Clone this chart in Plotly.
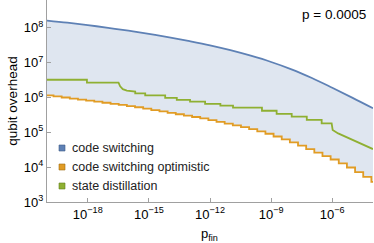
import plotly.graph_objects as go

# ---- data (log10 values) ----
blue_pfin_log = [-20, -19, -18, -17, -16, -15, -14, -13, -12, -11, -10, -9, -8, -7, -6, -5, -4]
blue_log = [8.21, 8.15, 8.08, 8.00, 7.92, 7.83, 7.73, 7.62, 7.50, 7.36, 7.20, 7.02, 6.81, 6.56, 6.28, 5.99, 5.69]

orange_step_pfin_log = [-20, -19.68, -19.28, -18.88, -18.48, -18.08, -17.68, -17.28, -16.88, -16.48,
                        -16.08, -15.68, -15.28, -14.88, -14.48, -14.08, -13.68, -13.28, -12.88, -12.48,
                        -12.08, -11.68, -11.28, -10.88, -10.48, -10.08, -9.68, -9.28, -8.88, -8.48,
                        -8.08, -7.68, -7.28, -6.88, -6.48, -6.08, -5.68, -5.28, -4.88, -4.48, -4.08]
orange_step_log = [6.06, 6.03, 6.00, 5.97, 5.94, 5.91, 5.88, 5.85, 5.82, 5.79,
                   5.75, 5.72, 5.68, 5.64, 5.60, 5.56, 5.52, 5.48, 5.44, 5.40,
                   5.35, 5.30, 5.25, 5.20, 5.15, 5.09, 5.03, 4.96, 4.88, 4.80,
                   4.71, 4.62, 4.52, 4.42, 4.32, 4.22, 4.11, 3.99, 3.86, 3.72, 3.58]
orange_end_pfin_log = -4.0

green_pfin_log = [-20, -18.04, -18.04, -16.49, -16.41, -16.28, -16.08, -15.83, -15.67, -15.67,
                  -15.18, -15.18, -14.20, -14.20, -13.63, -13.63, -12.98, -12.98, -12.24, -12.24,
                  -11.49, -11.49, -10.87, -10.87, -9.45, -9.45, -8.73, -8.73, -7.99, -7.99,
                  -7.25, -7.25, -6.52, -6.52, -6.03, -5.98, -5.71, -4.0]
green_log = [6.51, 6.51, 6.43, 6.43, 6.32, 6.24, 6.20, 6.17, 6.17, 6.12,
             6.12, 6.06, 6.06, 5.99, 5.99, 5.93, 5.93, 5.88, 5.88, 5.82,
             5.82, 5.77, 5.77, 5.71, 5.71, 5.62, 5.62, 5.53, 5.53, 5.45,
             5.45, 5.36, 5.36, 5.26, 5.26, 5.07, 4.97, 4.52]

x_tick_exps = [-18, -15, -12, -9, -6]
y_tick_exps = [3, 4, 5, 6, 7, 8]
legend_names = ["code switching", "code switching optimistic", "state distillation"]
p_label = "p = 0.0005"
x_title = "p<sub>fin</sub>"
y_title = "qubit overhead"

BLUE = "#5E81B5"
ORANGE = "#E19C24"
GREEN = "#8FB032"
EDGES = ["#3d5a88", "#a06c10", "#62801c"]
FONT = "Liberation Sans, Arial, sans-serif"

W, H = 374, 243
ML, MR, MT, MB = 47, 1, 0, 41
PW, PH = W - ML - MR, H - MT - MB


def pow_label(e):
    s = str(e).replace("-", "\u2212")
    return "10<sup>" + s + "</sup>"


def px_to_paper_x(px):
    return (px - ML) / PW


def py_to_paper_y(py):
    return (H - MB - py) / PH


# build orange staircase vertices
ox, oy = [], []
ends = orange_step_pfin_log[1:] + [orange_end_pfin_log]
for xs, xe, y in zip(orange_step_pfin_log, ends, orange_step_log):
    ox += [10 ** xs, 10 ** xe]
    oy += [10 ** y, 10 ** y]

bx = [10 ** v for v in blue_pfin_log]
by = [10 ** v for v in blue_log]
gx = [10 ** v for v in green_pfin_log]
gy = [10 ** v for v in green_log]

fig = go.Figure()
# fill region between orange and blue
fig.add_trace(go.Scatter(x=ox, y=oy, mode="lines", line=dict(width=0), showlegend=False, hoverinfo="skip"))
fig.add_trace(go.Scatter(x=bx, y=by, mode="lines", line=dict(width=0, shape="spline"), fill="tonexty",
                         fillcolor="rgba(94,129,181,0.2)", showlegend=False, hoverinfo="skip"))
# lines
fig.add_trace(go.Scatter(x=ox, y=oy, mode="lines", line=dict(color=ORANGE, width=1.8), showlegend=False))
fig.add_trace(go.Scatter(x=gx, y=gy, mode="lines", line=dict(color=GREEN, width=1.8), showlegend=False))
fig.add_trace(go.Scatter(x=bx, y=by, mode="lines", line=dict(color=BLUE, width=1.8, shape="spline"), showlegend=False))

# custom legend (square swatch + text)
legend_rows_py = [148, 167, 186]
for name, col, edge, ry in zip(legend_names, [BLUE, ORANGE, GREEN], EDGES, legend_rows_py):
    fig.add_shape(type="rect", xref="paper", yref="paper",
                  x0=px_to_paper_x(59), x1=px_to_paper_x(65),
                  y0=py_to_paper_y(ry + 3), y1=py_to_paper_y(ry - 3),
                  fillcolor=col, line=dict(color=edge, width=0.6))
    fig.add_annotation(text=name, xref="paper", yref="paper", x=px_to_paper_x(70), y=py_to_paper_y(ry),
                       xanchor="left", yanchor="middle", showarrow=False,
                       font=dict(family=FONT, size=12.5, color="#222"))

fig.add_annotation(text=p_label, xref="paper", yref="paper", x=px_to_paper_x(368), y=py_to_paper_y(15),
                   xanchor="right", yanchor="middle", showarrow=False,
                   font=dict(family=FONT, size=13.5, color="black"))
fig.add_annotation(text=x_title, xref="paper", yref="paper", x=px_to_paper_x(209), y=py_to_paper_y(235),
                   xanchor="center", yanchor="middle", showarrow=False,
                   font=dict(family=FONT, size=13, color="black"))

fig.update_layout(
    width=W, height=H,
    margin=dict(l=ML, r=MR, t=MT, b=MB),
    plot_bgcolor="white", paper_bgcolor="white",
    font=dict(family=FONT, size=12, color="black"),
    showlegend=False,
    hovermode=False,
)
fig.update_xaxes(type="log", range=[-20, -4], showgrid=False, zeroline=False, automargin=False,
                 showline=True, linecolor="#a0a0a0", linewidth=1,
                 ticks="inside", ticklen=4, tickcolor="#a0a0a0",
                 tickvals=[10 ** e for e in x_tick_exps], ticktext=[pow_label(e) for e in x_tick_exps],
                 tickfont=dict(family=FONT, size=13, color="black"))
fig.update_yaxes(type="log", range=[3, 8.8], showgrid=False, zeroline=False, automargin=False,
                 showline=True, linecolor="#a0a0a0", linewidth=1,
                 ticks="inside", ticklen=4, tickcolor="#a0a0a0",
                 tickvals=[10 ** e for e in y_tick_exps], ticktext=[pow_label(e) for e in y_tick_exps],
                 tickfont=dict(family=FONT, size=13, color="black"),
                 title=dict(text=y_title, font=dict(family=FONT, size=13.5), standoff=3))

fig.write_html("out.html", config={"displayModeBar": False},
               post_script="document.body.style.margin='0';document.body.style.padding='0';")
